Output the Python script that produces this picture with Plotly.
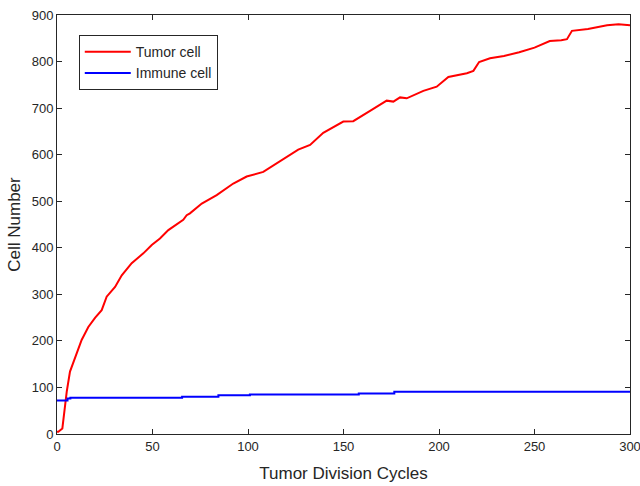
import plotly.graph_objects as go

# Tumor cell counts
tumor_x = [0, 0.7, 2.8, 3.8, 5.1, 6.8, 10.3, 12.9, 16.4, 20, 23.4, 26, 30.4, 33.9, 39.1,
           45.2, 49.6, 53.9, 58.3, 63, 66.1, 67.9, 69.6, 75.8, 76.6, 83.6, 92.3, 99.3,
           108, 115, 120.3, 126.3, 132.5, 139.4, 149.9, 155.1, 163.9, 172.6, 176.1,
           179.6, 183.1, 191.8, 198.8, 204.9, 214.6, 218, 221, 226.7, 234, 242, 250,
           258, 264, 267, 269.6, 278, 288, 294, 300]
tumor_y = [5, 5, 12, 51, 91, 134, 173, 202, 230, 250, 266, 295, 316, 341, 367,
           388, 406, 420, 438, 452, 460, 470, 474, 495, 497, 513, 538, 553,
           563, 581, 596, 611, 621, 647, 671, 672, 694, 716, 714,
           723, 721, 737, 746, 767, 775, 780, 799, 807, 812, 820, 830,
           844, 846, 848, 866, 870, 878, 880, 878]

# Immune cell counts (step changes)
immune_x = [0, 4, 5.5, 7, 65.5, 84.5, 101, 158, 176.6, 300]
immune_y = [72, 72, 76, 78, 80, 83, 85, 87, 91, 91]

FONT = "Liberation Sans, Arial"
TXT = "#262626"

fig = go.Figure()
fig.add_trace(go.Scatter(x=tumor_x, y=tumor_y, mode="lines", name="Tumor cell",
                         line=dict(color="#ff0000", width=2)))
fig.add_trace(go.Scatter(x=immune_x, y=immune_y, mode="lines", name="Immune cell",
                         line=dict(color="#0000ff", width=2, shape="hv")))

axis_common = dict(showline=True, mirror="ticks", linecolor=TXT, linewidth=1,
                   ticks="inside", ticklen=5, tickcolor=TXT, showgrid=False,
                   zeroline=False, automargin=False, ticklabeloverflow="allow",
                   tickfont=dict(family=FONT, size=13, color=TXT))

fig.update_xaxes(range=[0, 300], dtick=50, tick0=0,
                 title=dict(text="Tumor Division Cycles", standoff=14,
                            font=dict(family=FONT, size=17, color=TXT)),
                 **axis_common)
fig.update_yaxes(range=[0, 900], dtick=100, tick0=0,
                 title=dict(text="Cell Number", standoff=6,
                            font=dict(family=FONT, size=17, color=TXT)),
                 **axis_common)

fig.update_layout(
    width=640, height=486,
    margin=dict(l=57, r=10, t=15, b=52, autoexpand=False),
    plot_bgcolor="white", paper_bgcolor="white",
    legend=dict(x=0.038, y=0.952, xanchor="left", yanchor="top",
                bordercolor=TXT, borderwidth=1, bgcolor="white",
                font=dict(family=FONT, size=14, color=TXT),
                tracegroupgap=0, itemwidth=46),
)

fig.write_html("out.html",
               config={"displayModeBar": False},
               post_script="document.body.style.margin='0';document.body.style.overflow='hidden';")
